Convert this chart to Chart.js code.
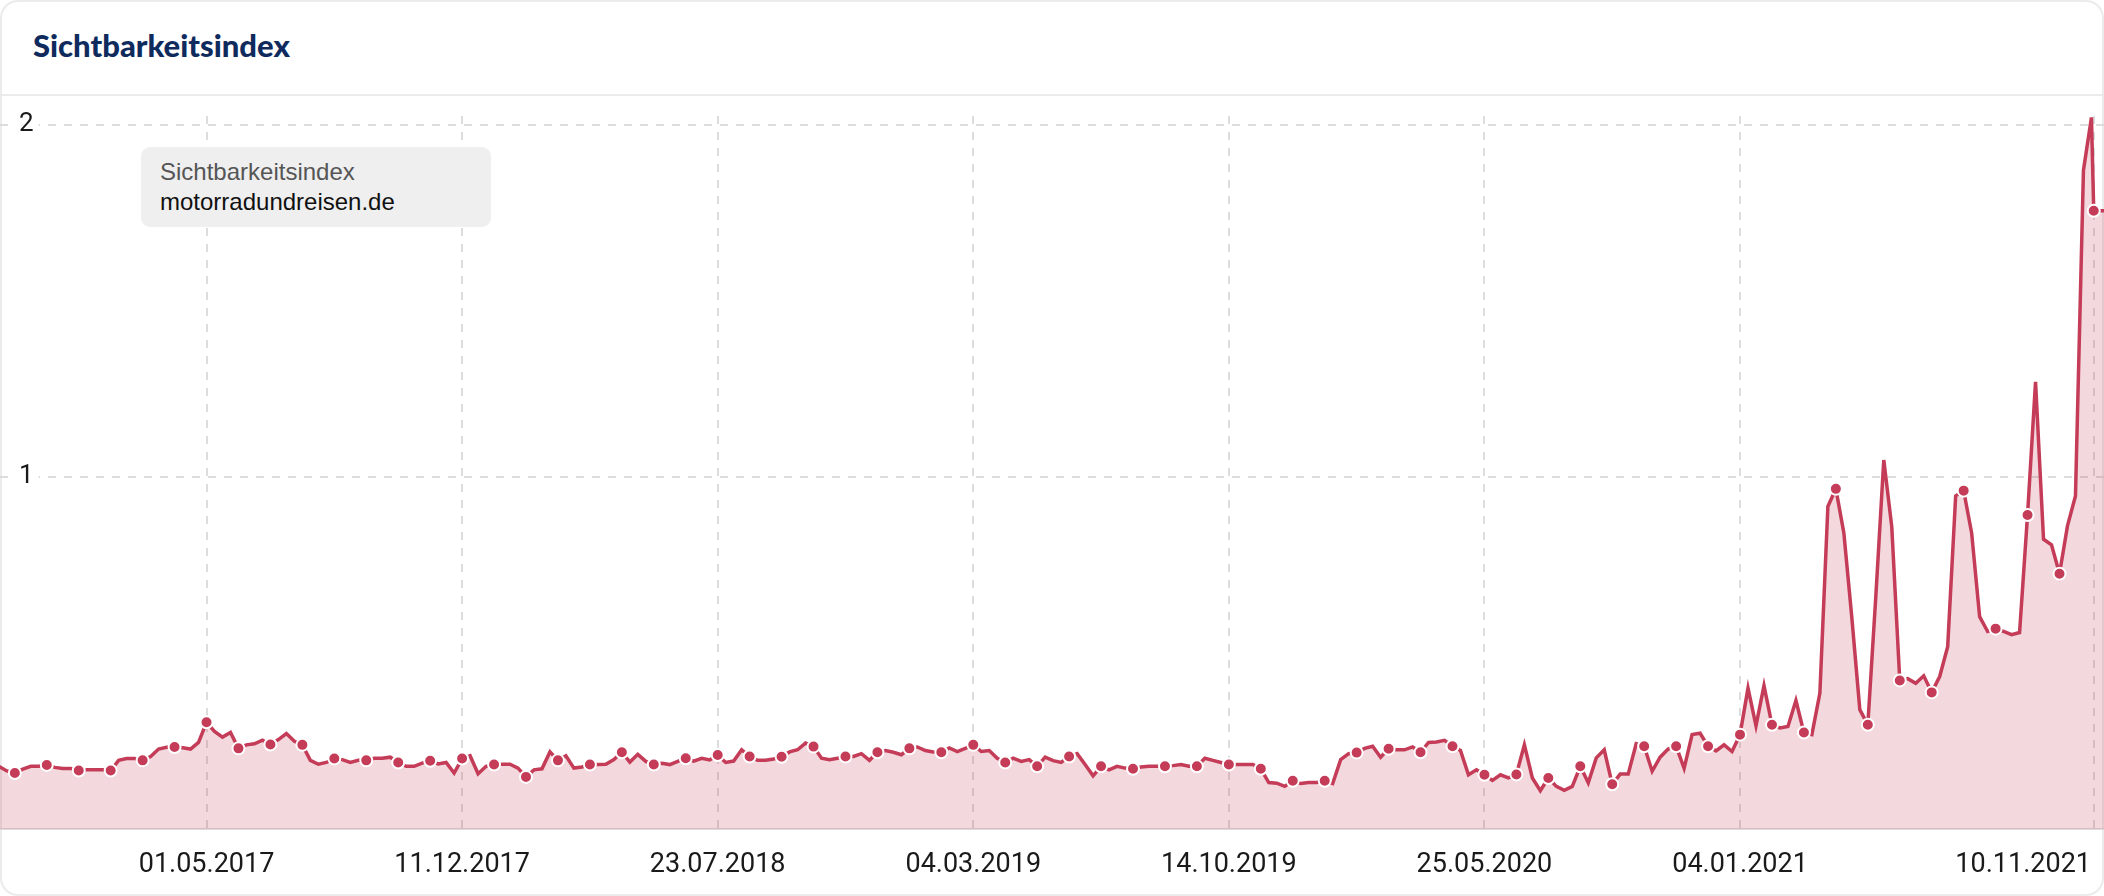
<!DOCTYPE html>
<html>
<head>
<meta charset="utf-8">
<script src="https://cdn.jsdelivr.net/npm/chart.js"></script>
<style>
  html, body { margin: 0; padding: 0; background: #fff; }
  body { width: 2104px; height: 896px; position: relative; overflow: hidden; font-family: 'Liberation Sans', Arial, sans-serif; }
  .card { position: absolute; left: 0; top: 0; width: 2104px; height: 896px; box-sizing: border-box; border: 2px solid #ebebeb; border-radius: 18px; }
  .card-title { position: absolute; left: 33px; top: 25px; font-family: Lato, sans-serif; font-weight: 900; font-size: 31px; line-height: 40px; color: #0f2b5e; }
  .card-sep { position: absolute; left: 0; top: 94px; width: 2104px; height: 2px; background: #ebebeb; }
  .chart-box { position: absolute; left: 0; top: 100px; width: 2104px; height: 796px; }
  .legend-box { position: absolute; left: 141px; top: 147px; width: 350px; height: 80px; box-sizing: border-box; padding: 10px 19px; background: #efefef; border-radius: 9px; font-size: 24px; line-height: 30px; }
  .legend-box .l1 { color: #555; }
  .legend-box .l2 { color: #111; }
</style>
</head>
<body>
<div class="card"></div>
<div class="card-title">Sichtbarkeitsindex</div>
<div class="card-sep"></div>
<div class="chart-box"><canvas id="sichtChart" width="2104" height="796"></canvas></div>
<div class="legend-box"><div class="l1">Sichtbarkeitsindex</div><div class="l2">motorradundreisen.de</div></div>

<script>
// Sichtbarkeitsindex motorradundreisen.de - weekly values (Mondays), plus the current day

const tickLabels = ['01.05.2017', '11.12.2017', '23.07.2018', '04.03.2019', '14.10.2019', '25.05.2020', '04.01.2021', '10.11.2021'];
const yTicks = [1, 2];
const xStart = '01.11.2016';
const xEnd = '19.11.2021';

// first weekly value is 31.10.2016, one per week after that
const firstWeek = '31.10.2016';
const weeklyValues = [
  0.178, 0.165, 0.159, 0.170, 0.178, 0.178, 0.182, 0.175, 0.172, 0.172,
  0.166, 0.168, 0.168, 0.168, 0.166, 0.195, 0.200, 0.200, 0.195, 0.206,
  0.227, 0.232, 0.233, 0.231, 0.227, 0.246,
  0.303, 0.277, 0.261, 0.274, 0.229, 0.239, 0.242, 0.252, 0.240, 0.254,
  0.271, 0.249, 0.239, 0.195, 0.184, 0.189, 0.200, 0.197, 0.189, 0.195,
  0.195, 0.201, 0.201, 0.204, 0.189, 0.178, 0.178, 0.187, 0.194, 0.185,
  0.189, 0.159, 0.200, 0.208, 0.157, 0.178, 0.183, 0.184, 0.184, 0.173,
  0.148, 0.168, 0.171, 0.219, 0.195, 0.208, 0.173, 0.176, 0.183, 0.183,
  0.184, 0.197, 0.218, 0.190, 0.212, 0.192, 0.183, 0.187, 0.183, 0.192,
  0.201, 0.193, 0.201, 0.196, 0.210, 0.189, 0.193, 0.225, 0.206, 0.195,
  0.195, 0.199, 0.205, 0.219, 0.225, 0.244, 0.234, 0.201, 0.197, 0.201,
  0.206, 0.206, 0.214, 0.195, 0.218, 0.223, 0.218, 0.211, 0.229, 0.233,
  0.223, 0.219, 0.218, 0.230, 0.220, 0.229, 0.239, 0.220, 0.223, 0.201,
  0.189, 0.201, 0.192, 0.197, 0.178, 0.204, 0.194, 0.189, 0.206, 0.214,
  0.183, 0.151, 0.178, 0.168, 0.178, 0.173, 0.171, 0.176, 0.178, 0.178,
  0.178, 0.180, 0.183, 0.178, 0.178, 0.201, 0.195, 0.189, 0.183, 0.183,
  0.183, 0.183, 0.171, 0.132, 0.130, 0.121, 0.137, 0.129, 0.132, 0.132,
  0.137, 0.129, 0.197, 0.214, 0.217, 0.229, 0.235, 0.204, 0.228, 0.225,
  0.225, 0.233, 0.218, 0.246, 0.247, 0.252, 0.235, 0.223, 0.154, 0.168,
  0.154, 0.138, 0.154, 0.145, 0.155, 0.239, 0.145, 0.109, 0.145, 0.121,
  0.110, 0.121, 0.178, 0.131, 0.202, 0.225, 0.127, 0.156, 0.156, 0.242,
  0.235, 0.164, 0.204, 0.227, 0.235, 0.172, 0.268, 0.272, 0.235, 0.222,
  0.239, 0.220, 0.268, 0.400, 0.293, 0.407, 0.296, 0.287, 0.291, 0.365,
  0.274, 0.268, 0.386, 0.916, 0.966, 0.841, 0.600, 0.339, 0.296, 0.660,
  1.048, 0.858, 0.422, 0.427, 0.414, 0.435, 0.388, 0.433, 0.518, 0.946,
  0.961, 0.841, 0.603, 0.561, 0.569, 0.561, 0.552, 0.558, 0.892, 1.270,
  0.823, 0.807, 0.725, 0.861, 0.946, 1.871, 2.021
];
const lastDates = ['10.11.2021', '19.11.2021'];
const lastValues = [1.756, 1.756];

const RED = '#c43c57';
const FILL = 'rgba(196, 60, 87, 0.2)';
const GRID = '#dcdcdc';

function day(s) {
  const [d, m, y] = s.split('.').map(Number);
  return Date.UTC(y, m - 1, d) / 864e5;
}

const points = weeklyValues.map((v, i) => ({ x: day(firstWeek) + 7 * i, y: v }))
  .concat(lastDates.map((d, i) => ({ x: day(d), y: lastValues[i] })));

// a dot every four weeks (on the tick weeks) and on the current day
const firstTick = day(tickLabels[0]);
const markers = new Set();
points.forEach((p, i) => {
  const w = Math.round((p.x - firstTick) / 7);
  if (i < weeklyValues.length - 1 && w % 4 === 0) markers.add(i);
});
markers.add(weeklyValues.length);

const xLabelPlugin = {
  id: 'xLabels',
  afterDraw(chart) {
    const { ctx, scales: { x }, chartArea } = chart;
    ctx.save();
    ctx.font = '27px Roboto';
    ctx.fillStyle = '#1a1a1a';
    ctx.textAlign = 'center';
    ctx.textBaseline = 'middle';
    tickLabels.forEach(t => {
      const w = ctx.measureText(t).width;
      const px = Math.min(x.getPixelForValue(day(t)), chart.width - 13 - w / 2);
      ctx.fillText(t, px, chartArea.bottom + 36);
    });
    ctx.restore();
  }
};

new Chart(document.getElementById('sichtChart').getContext('2d'), {
  type: 'line',
  data: {
    datasets: [{
      label: 'motorradundreisen.de',
      data: points,
      borderColor: RED,
      backgroundColor: FILL,
      fill: 'origin',
      borderWidth: 3.5,
      tension: 0,
      pointRadius: ctx => markers.has(ctx.dataIndex) ? 6 : 0,
      pointBackgroundColor: RED,
      pointBorderColor: '#fff',
      pointBorderWidth: 2
    }]
  },
  options: {
    responsive: false,
    animation: false,
    devicePixelRatio: 1,
    layout: { padding: { top: 16, bottom: 67, left: 0, right: 0 } },
    plugins: { legend: { display: false }, tooltip: { enabled: false } },
    scales: {
      x: {
        type: 'linear',
        min: day(xStart),
        max: day(xEnd),
        afterBuildTicks: s => { s.ticks = tickLabels.map(t => ({ value: day(t) })); },
        afterFit: s => { s.height = 0; s.paddingLeft = 0; s.paddingRight = 0; },
        ticks: { display: false },
        grid: { color: GRID, lineWidth: 2, drawTicks: false },
        border: { display: true, color: '#dcdcdc', width: 2, dash: [8, 8] }
      },
      y: {
        min: 0,
        max: 2.025,
        afterBuildTicks: s => { s.ticks = yTicks.map(v => ({ value: v })); },
        afterFit: s => { s.width = 0; s.paddingTop = 0; s.paddingBottom = 0; },
        ticks: {
          mirror: true,
          padding: 19,
          color: '#1a1a1a',
          font: { family: 'Roboto', size: 26 },
          showLabelBackdrop: true,
          backdropColor: '#fff',
          backdropPadding: { left: 5, right: 5, top: 0, bottom: 0 }
        },
        grid: { color: GRID, lineWidth: 2, drawTicks: false },
        border: { display: false, dash: [8, 8] }
      }
    }
  },
  plugins: [xLabelPlugin]
});
</script>
</body>
</html>
